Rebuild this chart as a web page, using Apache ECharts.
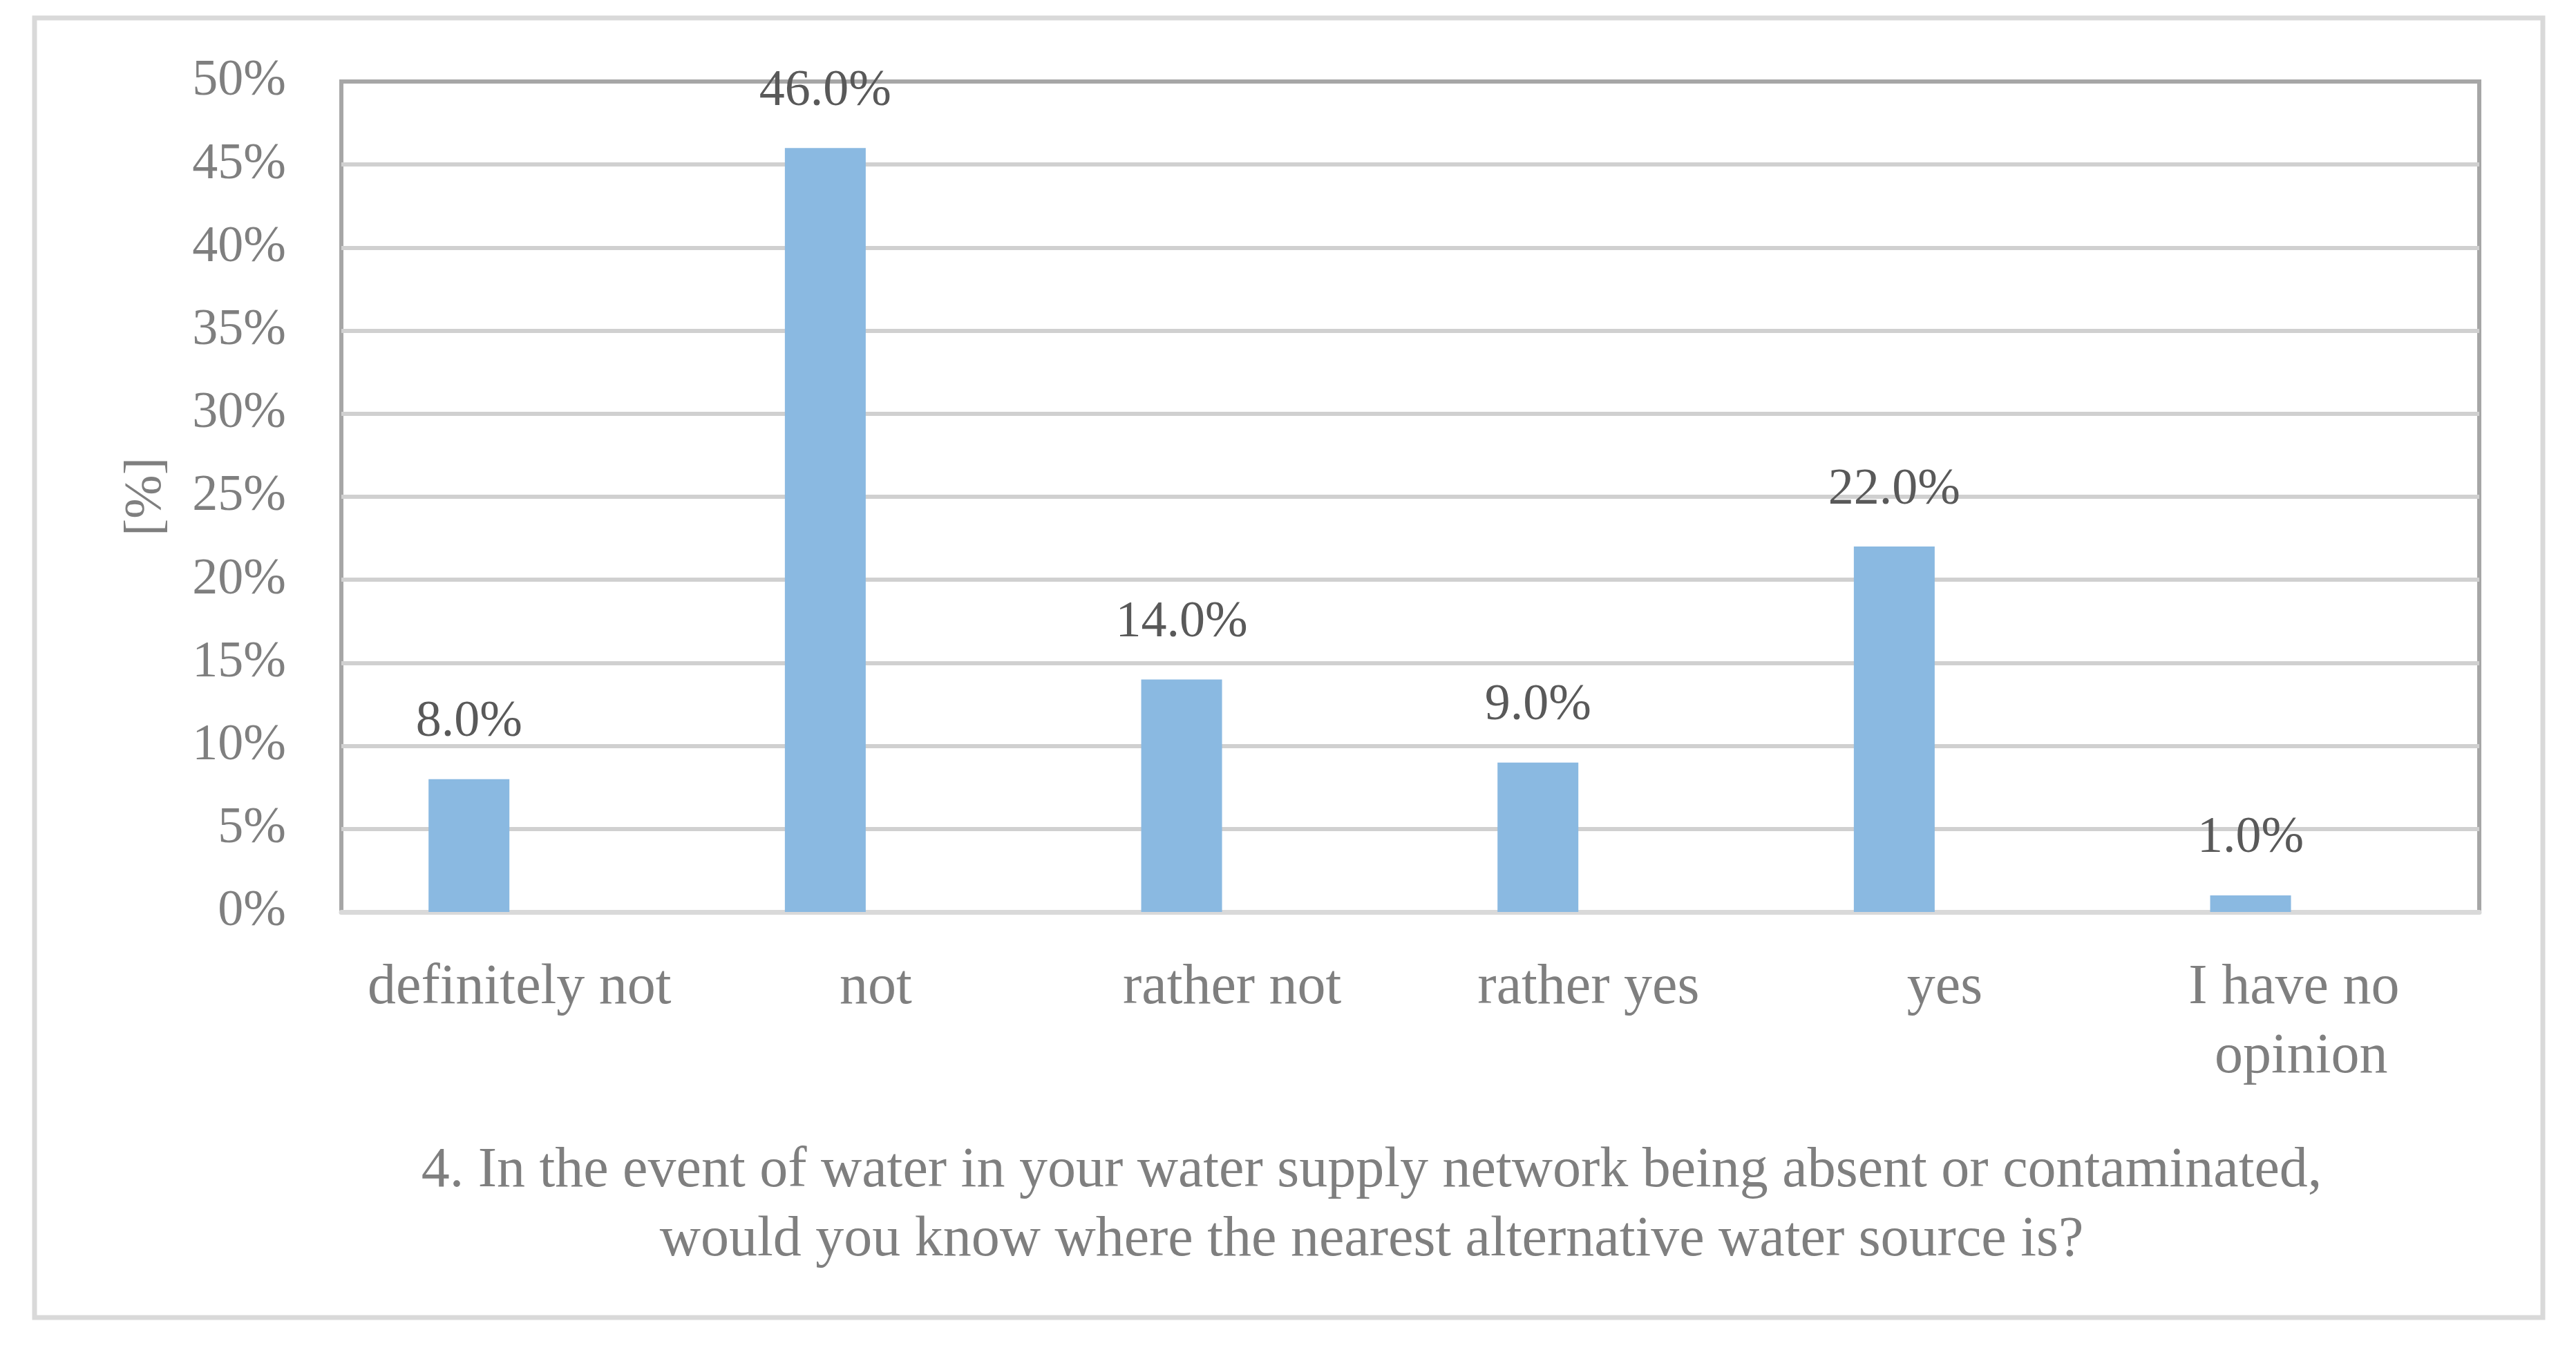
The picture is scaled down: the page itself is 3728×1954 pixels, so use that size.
<!DOCTYPE html>
<html>
<head>
<meta charset="utf-8">
<script src="https://cdn.jsdelivr.net/npm/echarts@6/dist/echarts.min.js"></script>
<style>
html,body{margin:0;padding:0;background:#fff;}
#chart{width:3728px;height:1954px;}
</style>
</head>
<body>
<div id="chart"></div>
<script>
const categories = ['definitely not', 'not', 'rather not', 'rather yes', 'yes', 'I have no opinion'];
const values = [8.0, 46.0, 14.0, 9.0, 22.0, 1.0];
const emptySeries = [null, null, null, null, null, null];
const yTicks = [0, 5, 10, 15, 20, 25, 30, 35, 40, 45, 50];
const yAxisName = '[%]';
const titleLines = [
  '4. In the event of water in your water supply network being absent or contaminated,',
  'would you know where the nearest alternative water source is?'
];

const FONT = '"Liberation Serif", "DejaVu Serif", serif';
const chart = echarts.init(document.getElementById('chart'), null, {renderer: 'canvas'});
chart.setOption({
  animation: false,
  backgroundColor: '#ffffff',
  title: {
    text: titleLines.join('\n'),
    left: 1980,
    top: 1640,
    textAlign: 'center',
    textStyle: {fontFamily: FONT, fontSize: 82, fontWeight: 'normal', color: '#7f7f7f', lineHeight: 100}
  },
  graphic: [{
    type: 'rect',
    silent: true,
    z: -10,
    shape: {x: 50, y: 26, width: 3630, height: 1881},
    style: {fill: 'none', stroke: '#d9d9d9', lineWidth: 7}
  }],
  grid: {
    left: 494, right: 140, top: 118, bottom: 634,
    show: true, borderColor: '#a6a6a6', borderWidth: 6, backgroundColor: 'transparent'
  },
  xAxis: {
    type: 'category',
    data: categories,
    axisLine: {show: true, lineStyle: {color: '#d9d9d9', width: 7}},
    axisTick: {show: false},
    axisLabel: {
      fontFamily: FONT, fontSize: 82, color: '#7f7f7f', margin: 60,
      lineHeight: 100, width: 470, overflow: 'break', interval: 0
    }
  },
  yAxis: {
    type: 'value',
    min: yTicks[0], max: yTicks[yTicks.length - 1], interval: 5,
    name: yAxisName,
    nameLocation: 'middle',
    nameGap: 244,
    nameRotate: 90,
    nameTextStyle: {fontFamily: FONT, fontSize: 76, color: '#7f7f7f'},
    axisLine: {show: false},
    axisTick: {show: false},
    axisLabel: {fontFamily: FONT, fontSize: 74, color: '#7f7f7f', margin: 80, formatter: v => v + '%'},
    splitLine: {show: true, showMinLine: false, showMaxLine: false, lineStyle: {color: '#d0d0d0', width: 6}}
  },
  series: [{
    type: 'bar',
    data: values,
    barWidth: 117,
    barGap: '25%',
    itemStyle: {color: '#8ab9e1'},
    label: {
      show: true, position: 'top', distance: 45,
      fontFamily: FONT, fontSize: 74, color: '#595959',
      formatter: p => p.value.toFixed(1) + '%'
    }
  }, {
    type: 'bar',
    data: emptySeries,
    barWidth: 117,
    itemStyle: {color: '#ed7d31'}
  }]
});
</script>
</body>
</html>
